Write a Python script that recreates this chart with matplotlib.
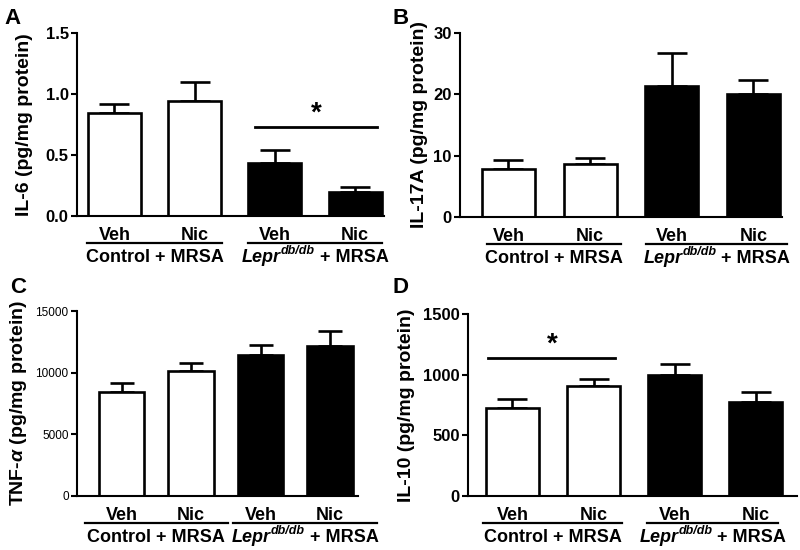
import matplotlib
matplotlib.use("Agg")
import matplotlib.pyplot as plt
import matplotlib.transforms as mtransforms

plt.rcParams['font.family'] = ['Liberation Sans', 'DejaVu Sans']
plt.rcParams['font.weight'] = 'bold'
plt.rcParams['mathtext.fontset'] = 'custom'
plt.rcParams['mathtext.it'] = 'Liberation Sans:italic:bold'
plt.rcParams['mathtext.rm'] = 'Liberation Sans:bold'
plt.rcParams['mathtext.bf'] = 'Liberation Sans:bold'

# ---- data ----
bar_labels = ["Veh", "Nic", "Veh", "Nic"]
group1_label = "Control + MRSA"
group2_parts = ["Lepr", "db/db", " + MRSA"]   # italic, italic superscript, normal
bar_colors = ["white", "white", "black", "black"]

il6_mean = [0.845, 0.945, 0.437, 0.194]
il6_sem = [0.07, 0.15, 0.10, 0.04]
il17_mean = [7.9, 8.6, 21.4, 20.0]
il17_sem = [1.45, 0.95, 5.4, 2.4]
tnf_mean = [8450, 10130, 11400, 12180]
tnf_sem = [680, 670, 840, 1190]
il10_mean = [728, 907, 998, 772]
il10_sem = [72, 55, 88, 88]

fig = plt.figure(figsize=(8, 5.5), dpi=100)
W, H = 800, 550
renderer = fig.canvas.get_renderer()

def px_axes(left, top, right, bottom):
    return fig.add_axes([left / W, (H - bottom) / H, (right - left) / W, (bottom - top) / H])

panels = [
    dict(rect=(77, 33, 384, 216), mean=il6_mean, sem=il6_sem, ylim=(0, 1.5),
         yticks=[0, 0.5, 1.0, 1.5], fmt="{:.1f}", ylabel="IL-6 (pg/mg protein)",
         xlim=(-0.467, 3.36), width=0.66, cap=10.5, tickfs=12, tickbold=True,
         labx=-0.143, lines=[(-0.34, 1.34), (1.66, 3.34)], letter="A", lpos=(4, 8),
         sig=(1.75, 3.27, 0.73)),
    dict(rect=(460, 33, 782, 217), mean=il17_mean, sem=il17_sem, ylim=(0, 30),
         yticks=[0, 10, 20, 30], fmt="{:.0f}", ylabel="IL-17A (pg/mg protein)",
         xlim=(-0.594, 3.35), width=0.65, cap=10.5, tickfs=12, tickbold=True,
         labx=-0.099, lines=[(-0.26, 1.38), (1.69, 3.41)], letter="B", lpos=(393, 8),
         sig=None),
    dict(rect=(77, 311, 358, 495.7), mean=tnf_mean, sem=tnf_sem, ylim=(0, 15000),
         yticks=[0, 5000, 10000, 15000], fmt="{:.0f}", ylabel=r"TNF-$\alpha$ (pg/mg protein)",
         xlim=(-0.64, 3.40), width=0.655, cap=8.3, tickfs=8.5, tickbold=False,
         labx=-0.171, lines=[(-0.53, 1.53), (1.60, 3.68)], letter="C", lpos=(10, 277),
         sig=None),
    dict(rect=(468, 314.3, 797, 495.7), mean=il10_mean, sem=il10_sem, ylim=(0, 1500),
         yticks=[0, 500, 1000, 1500], fmt="{:.0f}", ylabel="IL-10 (pg/mg protein)",
         xlim=(-0.549, 3.51), width=0.654, cap=10.5, tickfs=12, tickbold=True,
         labx=-0.161, lines=[(-0.36, 1.35), (1.66, 3.28)], letter="D", lpos=(392, 277),
         sig=(-0.30, 1.27, 1141)),
]

PT = 0.72  # points per pixel at 100 dpi


def group_text(ax, xc, text, dy_px):
    return ax.annotate(text, xy=(xc, 0), xycoords=("data", "axes fraction"),
                       xytext=(0, -dy_px * PT), textcoords="offset points",
                       ha="center", va="baseline", fontsize=13, fontweight="bold",
                       annotation_clip=False)


def lepr_text(ax, xc, dy_px):
    specs = [(group2_parts[0], 13, "italic", 0),
             (group2_parts[1], 9, "italic", 8),
             (group2_parts[2], 13, "normal", 0)]
    texts, widths = [], []
    for s, fs, style, rise in specs:
        t = ax.annotate(s, xy=(xc, 0), xycoords=("data", "axes fraction"),
                        xytext=(0, (-dy_px + rise) * PT), textcoords="offset points",
                        ha="left", va="baseline", fontsize=fs, fontweight="bold",
                        fontstyle=style, annotation_clip=False)
        texts.append(t)
        widths.append(t.get_window_extent(renderer).width)
    total = sum(widths)
    cur = -total / 2
    for (s, fs, style, rise), t, w in zip(specs, texts, widths):
        t.xyann = (cur * PT, (-dy_px + rise) * PT)
        cur += w
    return texts


for p in panels:
    ax = px_axes(*p["rect"])
    x = list(range(len(p["mean"])))
    ax.bar(x, p["mean"], width=p["width"], color=bar_colors, edgecolor="black",
           linewidth=1.9, zorder=2)
    ax.errorbar(x, p["mean"], yerr=[[0] * len(x), p["sem"]], fmt="none", ecolor="black",
                elinewidth=1.9, capsize=p["cap"], capthick=1.9, zorder=1)
    ax.set_xlim(*p["xlim"])
    ax.set_ylim(*p["ylim"])
    ax.set_yticks(p["yticks"])
    ax.set_yticklabels([p["fmt"].format(t) for t in p["yticks"]],
                       fontsize=p["tickfs"], fontweight="bold" if p["tickbold"] else "normal")
    ax.set_xticks([])
    for s in ["top", "right"]:
        ax.spines[s].set_visible(False)
    for s in ["left", "bottom"]:
        ax.spines[s].set_linewidth(1.5)
    ax.tick_params(axis="y", direction="out", length=4, width=1.5, pad=2)
    ax.set_ylabel(p["ylabel"], fontsize=14, fontweight="bold")
    ax.yaxis.set_label_coords(p["labx"], 0.5)

    for xi, lab in zip(x, bar_labels):
        group_text(ax, xi, lab, 24)
    trans = ax.get_xaxis_transform() + mtransforms.ScaledTranslation(0, -27 / 100, fig.dpi_scale_trans)
    for x0, x1 in p["lines"]:
        ax.add_line(plt.Line2D([x0, x1], [0, 0], color="black", linewidth=1.6,
                               clip_on=False, transform=trans))
    (a0, a1), (b0, b1) = p["lines"]
    group_text(ax, (a0 + a1) / 2, group1_label, 46)
    lepr_text(ax, (b0 + b1) / 2, 46)

    if p["sig"] is not None:
        x0, x1, yv = p["sig"]
        ax.plot([x0, x1], [yv, yv], color="black", linewidth=2, clip_on=False)
        ax.text((x0 + x1) / 2, yv, "*", ha="center", va="bottom", fontsize=20,
                fontweight="bold")

    lx, ly = p["lpos"]
    fig.text(lx / W, 1 - ly / H, p["letter"], fontsize=16, fontweight="bold",
             ha="left", va="top")

fig.savefig("out.png", dpi=100)
